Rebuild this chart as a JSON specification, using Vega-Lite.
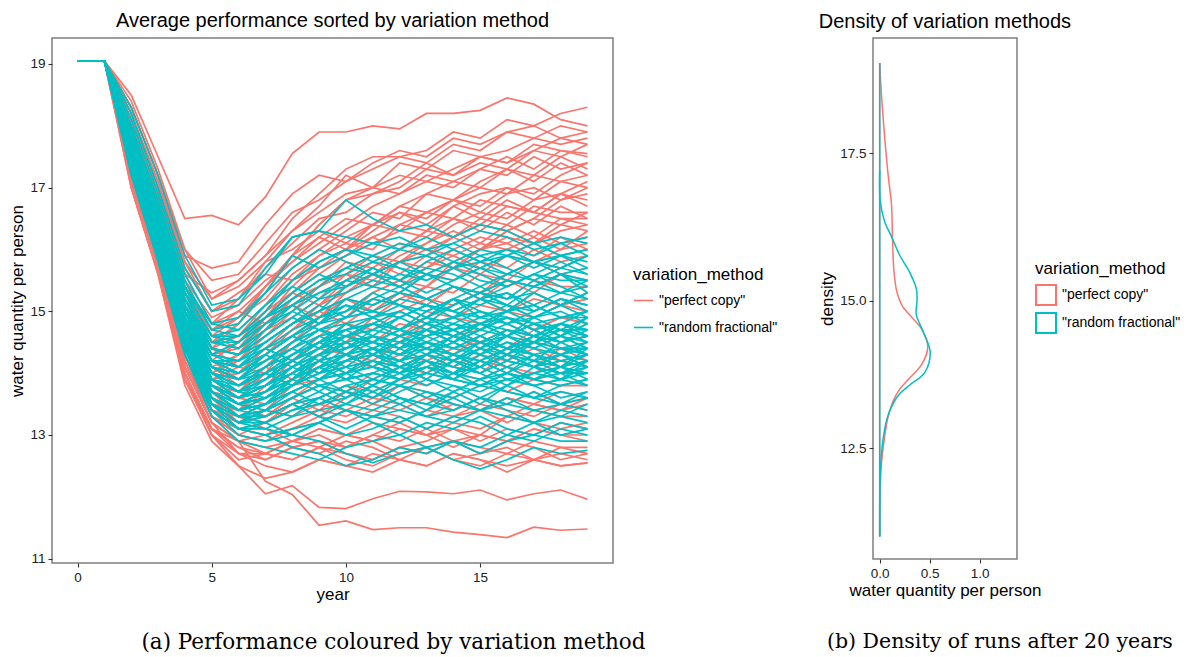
{
  "$schema": "https://vega.github.io/schema/vega-lite/v6.json",
  "padding": {"left": 8, "top": 10, "right": 0, "bottom": 0},
  "background": "white",
  "config": {
    "font": "Liberation Sans",
    "view": {"stroke": "#7f7f7f", "strokeWidth": 1.5},
    "axis": {"domain": false, "grid": false, "tickColor": "#333333", "tickSize": 4, "tickWidth": 1.1, "labelColor": "#222222", "labelFontSize": 13.5, "labelPadding": 3, "titleColor": "#000000", "titleFontSize": 17, "titleFontWeight": "normal", "titlePadding": 3},
    "legend": {"titleFontSize": 17, "titleFontWeight": "normal", "titleColor": "#000000", "labelFontSize": 14, "labelColor": "#000000", "titlePadding": 6, "labelOffset": 5, "layout": {"right": {"anchor": "middle"}}},
    "title": {"fontSize": 20, "fontWeight": "normal", "color": "#000000"}
  },
  "datasets": {
    "runs": [
      {"id": "p01", "m": "\"perfect copy\"", "t": [0,1,2,3,4,5,6,7,8,9,10,11,12,13,14,15,16,17,18,19], "v": [19.05,19.05,18.5,17.5,16.5,16.55,16.4,16.85,17.55,17.9,17.9,18.0,17.95,18.2,18.2,18.25,18.45,18.35,18.1,18.0]},
      {"id": "p02", "m": "\"perfect copy\"", "t": [0,1,2,3,4,5,6,7,8,9,10,11,12,13,14,15,16,17,18,19], "v": [19.05,19.05,18.4,17.3,16.0,15.2,15.5,15.9,16.5,16.9,17.3,17.5,17.5,17.6,17.9,17.8,18.1,18.0,18.2,18.3]},
      {"id": "p03", "m": "\"perfect copy\"", "t": [0,1,2,3,4,5,6,7,8,9,10,11,12,13,14,15,16,17,18,19], "v": [19.05,19.05,18.3,17.2,15.8,15.0,15.2,15.8,16.3,16.7,17.2,17.0,17.4,17.3,17.6,17.5,17.6,17.8,17.7,17.8]},
      {"id": "p04", "m": "\"perfect copy\"", "t": [0,1,2,3,4,5,6,7,8,9,10,11,12,13,14,15,16,17,18,19], "v": [19.05,19.05,18.2,17.0,15.6,14.8,15.0,15.4,15.9,16.4,16.8,16.9,17.1,17.4,17.2,17.5,17.4,17.7,17.6,17.55]},
      {"id": "p05", "m": "\"perfect copy\"", "t": [0,1,2,3,4,5,6,7,8,9,10,11,12,13,14,15,16,17,18,19], "v": [19.05,19.05,18.1,16.9,15.5,14.6,14.9,15.2,15.7,16.0,16.3,16.6,16.5,16.9,17.1,17.0,17.3,17.2,17.5,17.3]},
      {"id": "p06", "m": "\"perfect copy\"", "t": [0,1,2,3,4,5,6,7,8,9,10,11,12,13,14,15,16,17,18,19], "v": [19.05,19.05,18.0,16.8,15.3,14.5,14.6,15.0,15.5,15.7,16.0,16.2,16.4,16.3,16.7,16.9,17.0,16.8,17.1,17.0]},
      {"id": "p07", "m": "\"perfect copy\"", "t": [0,1,2,3,4,5,6,7,8,9,10,11,12,13,14,15,16,17,18,19], "v": [19.05,19.05,18.2,17.1,15.7,15.0,15.3,15.6,15.5,15.9,16.1,16.0,16.4,16.6,16.5,16.8,16.7,16.6,16.9,16.8]},
      {"id": "p08", "m": "\"perfect copy\"", "t": [0,1,2,3,4,5,6,7,8,9,10,11,12,13,14,15,16,17,18,19], "v": [19.05,19.05,17.9,16.6,15.2,14.3,14.2,14.6,15.0,15.4,15.8,15.7,16.0,16.3,16.2,16.5,16.4,16.7,16.6,16.6]},
      {"id": "p09", "m": "\"perfect copy\"", "t": [0,1,2,3,4,5,6,7,8,9,10,11,12,13,14,15,16,17,18,19], "v": [19.05,19.05,18.0,16.7,15.0,14.0,14.3,14.8,15.2,15.4,15.6,15.9,15.8,16.1,16.3,16.1,16.4,16.2,16.5,16.4]},
      {"id": "p10", "m": "\"perfect copy\"", "t": [0,1,2,3,4,5,6,7,8,9,10,11,12,13,14,15,16,17,18,19], "v": [19.05,19.05,17.8,16.5,14.9,13.9,14.0,14.4,14.7,15.1,15.3,15.6,15.8,15.7,16.0,16.2,16.1,16.3,16.1,16.2]},
      {"id": "p11", "m": "\"perfect copy\"", "t": [0,1,2,3,4,5,6,7,8,9,10,11,12,13,14,15,16,17,18,19], "v": [19.05,19.05,18.1,16.8,15.4,14.6,14.4,14.7,14.9,15.2,15.6,15.4,15.8,15.9,15.7,16.0,16.1,15.9,16.2,16.0]},
      {"id": "p12", "m": "\"perfect copy\"", "t": [0,1,2,3,4,5,6,7,8,9,10,11,12,13,14,15,16,17,18,19], "v": [19.05,19.05,17.7,16.3,14.7,13.8,13.7,14.1,14.5,14.8,15.0,15.3,15.5,15.4,15.7,15.6,15.9,15.8,15.7,15.9]},
      {"id": "p13", "m": "\"perfect copy\"", "t": [0,1,2,3,4,5,6,7,8,9,10,11,12,13,14,15,16,17,18,19], "v": [19.05,19.05,17.9,16.6,15.1,14.2,13.9,14.2,14.4,14.7,14.9,15.2,15.1,15.4,15.3,15.6,15.5,15.8,15.6,15.7]},
      {"id": "p14", "m": "\"perfect copy\"", "t": [0,1,2,3,4,5,6,7,8,9,10,11,12,13,14,15,16,17,18,19], "v": [19.05,19.05,18.0,16.7,15.0,14.1,13.8,13.9,14.2,14.5,14.8,14.7,15.0,15.2,15.1,15.3,15.2,15.5,15.4,15.4]},
      {"id": "p15", "m": "\"perfect copy\"", "t": [0,1,2,3,4,5,6,7,8,9,10,11,12,13,14,15,16,17,18,19], "v": [19.05,19.05,17.6,16.2,14.6,13.6,13.4,13.7,14.0,14.3,14.5,14.8,14.7,15.0,14.9,15.1,15.0,15.2,15.1,15.2]},
      {"id": "p16", "m": "\"perfect copy\"", "t": [0,1,2,3,4,5,6,7,8,9,10,11,12,13,14,15,16,17,18,19], "v": [19.05,19.05,17.8,16.4,14.8,13.9,13.6,13.8,14.1,14.3,14.6,14.5,14.8,14.7,14.9,14.8,15.0,14.9,15.1,15.0]},
      {"id": "p17", "m": "\"perfect copy\"", "t": [0,1,2,3,4,5,6,7,8,9,10,11,12,13,14,15,16,17,18,19], "v": [19.05,19.05,18.1,16.9,15.3,14.4,14.1,14.0,14.2,14.4,14.3,14.6,14.5,14.8,14.6,14.7,14.9,14.7,14.9,14.8]},
      {"id": "p18", "m": "\"perfect copy\"", "t": [0,1,2,3,4,5,6,7,8,9,10,11,12,13,14,15,16,17,18,19], "v": [19.05,19.05,17.7,16.3,14.6,13.7,13.5,13.6,13.9,14.1,14.3,14.2,14.5,14.4,14.6,14.5,14.7,14.6,14.5,14.6]},
      {"id": "p19", "m": "\"perfect copy\"", "t": [0,1,2,3,4,5,6,7,8,9,10,11,12,13,14,15,16,17,18,19], "v": [19.05,19.05,17.5,16.1,14.5,13.5,13.3,13.5,13.8,13.9,14.2,14.1,14.3,14.2,14.4,14.5,14.3,14.5,14.4,14.4]},
      {"id": "p20", "m": "\"perfect copy\"", "t": [0,1,2,3,4,5,6,7,8,9,10,11,12,13,14,15,16,17,18,19], "v": [19.05,19.05,17.9,16.5,14.9,13.9,13.6,13.5,13.7,13.9,14.0,14.2,14.1,14.3,14.1,14.3,14.2,14.4,14.2,14.3]},
      {"id": "p21", "m": "\"perfect copy\"", "t": [0,1,2,3,4,5,6,7,8,9,10,11,12,13,14,15,16,17,18,19], "v": [19.05,19.05,17.6,16.2,14.4,13.4,13.2,13.4,13.6,13.8,13.7,14.0,13.9,14.1,14.0,14.2,14.1,14.0,14.2,14.1]},
      {"id": "p22", "m": "\"perfect copy\"", "t": [0,1,2,3,4,5,6,7,8,9,10,11,12,13,14,15,16,17,18,19], "v": [19.05,19.05,17.4,16.0,14.3,13.3,13.1,13.2,13.5,13.6,13.8,13.7,13.9,13.8,14.0,13.9,14.1,13.9,14.0,14.0]},
      {"id": "p23", "m": "\"perfect copy\"", "t": [0,1,2,3,4,5,6,7,8,9,10,11,12,13,14,15,16,17,18,19], "v": [19.05,19.05,17.8,16.4,14.7,13.7,13.3,13.2,13.4,13.5,13.7,13.6,13.8,13.7,13.6,13.8,13.7,13.9,13.8,13.8]},
      {"id": "p24", "m": "\"perfect copy\"", "t": [0,1,2,3,4,5,6,7,8,9,10,11,12,13,14,15,16,17,18,19], "v": [19.05,19.05,17.3,15.9,14.2,13.2,12.9,13.0,13.2,13.4,13.3,13.5,13.4,13.6,13.5,13.4,13.6,13.5,13.7,13.6]},
      {"id": "p25", "m": "\"perfect copy\"", "t": [0,1,2,3,4,5,6,7,8,9,10,11,12,13,14,15,16,17,18,19], "v": [19.05,19.05,17.5,16.0,14.3,13.3,13.0,12.9,13.1,13.2,13.4,13.3,13.2,13.4,13.3,13.5,13.4,13.3,13.5,13.4]},
      {"id": "p26", "m": "\"perfect copy\"", "t": [0,1,2,3,4,5,6,7,8,9,10,11,12,13,14,15,16,17,18,19], "v": [19.05,19.05,17.2,15.8,14.0,13.1,12.8,12.7,12.9,13.1,13.0,13.2,13.1,13.0,13.2,13.1,13.3,13.2,13.1,13.2]},
      {"id": "p27", "m": "\"perfect copy\"", "t": [0,1,2,3,4,5,6,7,8,9,10,11,12,13,14,15,16,17,18,19], "v": [19.05,19.05,17.4,15.9,14.1,13.2,12.7,12.6,12.8,12.9,12.8,13.0,12.9,13.1,12.9,13.0,12.9,13.1,13.0,13.0]},
      {"id": "p28", "m": "\"perfect copy\"", "t": [0,1,2,3,4,5,6,7,8,9,10,11,12,13,14,15,16,17,18,19], "v": [19.05,19.05,17.1,15.7,13.9,13.0,12.6,12.7,12.6,12.8,12.7,12.6,12.8,12.7,12.9,12.8,12.7,12.9,12.8,12.8]},
      {"id": "p29", "m": "\"perfect copy\"", "t": [0,1,2,3,4,5,6,7,8,9,10,11,12,13,14,15,16,17,18,19], "v": [19.05,19.05,17.0,15.6,13.8,12.9,12.5,12.3,12.4,12.6,12.5,12.7,12.6,12.5,12.7,12.6,12.5,12.6,12.5,12.55]},
      {"id": "p30", "m": "\"perfect copy\"", "t": [0,1,2,3,4,5,6,7,8,9,10,11,12,13,14,15,16,17,18,19], "v": [19.05,19.05,17.2,15.9,14.0,13.0,12.5,12.05,12.18,11.83,11.81,11.97,12.09,12.08,12.05,12.11,11.95,12.05,12.11,11.96]},
      {"id": "p31", "m": "\"perfect copy\"", "t": [0,1,2,3,4,5,6,7,8,9,10,11,12,13,14,15,16,17,18,19], "v": [19.05,19.05,17.0,15.6,13.9,13.1,12.9,12.25,12.04,11.54,11.61,11.47,11.5,11.5,11.43,11.39,11.34,11.51,11.46,11.48]},
      {"id": "p32", "m": "\"perfect copy\"", "t": [0,1,2,3,4,5,6,7,8,9,10,11,12,13,14,15,16,17,18,19], "v": [19.05,19.05,17.6,16.2,14.6,13.8,13.5,13.3,13.6,13.9,14.2,14.4,14.6,14.9,15.1,15.3,15.6,15.8,16.0,16.3]},
      {"id": "p33", "m": "\"perfect copy\"", "t": [0,1,2,3,4,5,6,7,8,9,10,11,12,13,14,15,16,17,18,19], "v": [19.05,19.05,17.7,16.3,14.5,13.6,13.2,13.4,13.8,14.2,14.5,14.9,15.2,15.4,15.8,16.0,16.3,16.5,16.8,16.9]},
      {"id": "p34", "m": "\"perfect copy\"", "t": [0,1,2,3,4,5,6,7,8,9,10,11,12,13,14,15,16,17,18,19], "v": [19.05,19.05,17.5,16.1,14.4,13.5,13.1,13.0,12.8,12.9,12.7,12.6,12.8,12.9,13.1,13.0,13.3,13.5,13.4,13.6]},
      {"id": "p35", "m": "\"perfect copy\"", "t": [0,1,2,3,4,5,6,7,8,9,10,11,12,13,14,15,16,17,18,19], "v": [19.05,19.05,18.3,17.2,15.9,15.7,15.8,16.4,16.9,17.2,17.1,17.4,17.6,17.5,17.8,17.7,17.9,18.0,17.8,17.9]},
      {"id": "p36", "m": "\"perfect copy\"", "t": [0,1,2,3,4,5,6,7,8,9,10,11,12,13,14,15,16,17,18,19], "v": [19.05,19.05,17.9,16.7,15.2,14.4,14.8,15.4,15.8,16.2,16.0,16.4,16.7,16.6,16.8,17.0,16.9,17.2,17.1,17.2]},
      {"id": "p37", "m": "\"perfect copy\"", "t": [0,1,2,3,4,5,6,7,8,9,10,11,12,13,14,15,16,17,18,19], "v": [19.05,19.05,17.8,16.5,15.0,14.2,14.5,15.0,15.3,15.1,15.5,15.8,15.6,15.9,16.2,16.0,16.3,16.5,16.4,16.6]},
      {"id": "p38", "m": "\"perfect copy\"", "t": [0,1,2,3,4,5,6,7,8,9,10,11,12,13,14,15,16,17,18,19], "v": [19.05,19.05,17.6,16.2,14.7,13.9,14.1,14.3,14.6,14.9,15.2,15.0,15.3,15.6,15.5,15.8,15.7,16.0,15.8,15.9]},
      {"id": "p39", "m": "\"perfect copy\"", "t": [0,1,2,3,4,5,6,7,8,9,10,11,12,13,14,15,16,17,18,19], "v": [19.05,19.05,17.3,15.9,14.2,13.3,13.0,13.2,13.5,13.3,13.6,13.9,14.1,14.0,14.3,14.6,14.4,14.7,14.9,14.8]},
      {"id": "p40", "m": "\"perfect copy\"", "t": [0,1,2,3,4,5,6,7,8,9,10,11,12,13,14,15,16,17,18,19], "v": [19.05,19.05,17.5,16.0,14.3,13.4,13.3,13.1,12.9,12.8,13.0,12.9,12.7,12.8,12.6,12.7,12.9,12.8,12.6,12.7]},
      {"id": "p41", "m": "\"perfect copy\"", "t": [0,1,2,3,4,5,6,7,8,9,10,11,12,13,14,15,16,17,18,19], "v": [19.05,19.05,18.0,16.8,15.4,14.7,15.0,14.8,15.1,14.9,15.2,15.0,15.3,15.1,15.4,15.2,15.0,15.3,15.1,15.2]},
      {"id": "p42", "m": "\"perfect copy\"", "t": [0,1,2,3,4,5,6,7,8,9,10,11,12,13,14,15,16,17,18,19], "v": [19.05,19.05,17.7,16.4,14.9,14.0,13.8,14.1,13.9,14.2,14.0,14.3,14.1,13.9,14.2,14.0,14.3,14.1,14.4,14.2]},
      {"id": "p43", "m": "\"perfect copy\"", "t": [0,1,2,3,4,5,6,7,8,9,10,11,12,13,14,15,16,17,18,19], "v": [19.05,19.05,18.2,17.0,15.6,15.3,15.5,15.9,16.3,16.6,16.9,17.0,17.2,17.1,17.3,17.5,17.4,17.6,17.8,17.7]},
      {"id": "p44", "m": "\"perfect copy\"", "t": [0,1,2,3,4,5,6,7,8,9,10,11,12,13,14,15,16,17,18,19], "v": [19.05,19.05,18.1,16.9,15.4,14.8,15.2,15.7,16.1,16.5,16.6,16.9,17.0,17.3,17.2,17.4,17.3,17.6,17.5,17.7]},
      {"id": "p45", "m": "\"perfect copy\"", "t": [0,1,2,3,4,5,6,7,8,9,10,11,12,13,14,15,16,17,18,19], "v": [19.05,19.05,18.0,16.7,15.2,14.5,14.8,15.3,15.9,16.2,16.5,16.4,16.7,16.9,16.8,17.1,17.3,17.1,17.4,17.2]},
      {"id": "p46", "m": "\"perfect copy\"", "t": [0,1,2,3,4,5,6,7,8,9,10,11,12,13,14,15,16,17,18,19], "v": [19.05,19.05,17.9,16.6,15.1,14.4,14.6,15.1,15.6,15.9,16.2,16.4,16.3,16.6,16.8,16.6,16.9,17.0,16.8,17.0]},
      {"id": "p47", "m": "\"perfect copy\"", "t": [0,1,2,3,4,5,6,7,8,9,10,11,12,13,14,15,16,17,18,19], "v": [19.05,19.05,17.8,16.5,14.9,14.1,14.3,14.9,15.3,15.6,15.9,16.1,16.3,16.2,16.5,16.4,16.7,16.6,16.9,16.7]},
      {"id": "p48", "m": "\"perfect copy\"", "t": [0,1,2,3,4,5,6,7,8,9,10,11,12,13,14,15,16,17,18,19], "v": [19.05,19.05,18.2,17.1,15.8,15.2,15.4,15.8,16.0,16.3,16.1,16.4,16.6,16.4,16.7,16.5,16.8,16.6,16.5,16.5]},
      {"id": "p49", "m": "\"perfect copy\"", "t": [0,1,2,3,4,5,6,7,8,9,10,11,12,13,14,15,16,17,18,19], "v": [19.05,19.05,17.7,16.4,14.8,14.0,14.2,14.7,15.2,15.5,15.7,15.9,16.1,16.0,16.2,16.4,16.3,16.1,16.3,16.4]},
      {"id": "p50", "m": "\"perfect copy\"", "t": [0,1,2,3,4,5,6,7,8,9,10,11,12,13,14,15,16,17,18,19], "v": [19.05,19.05,17.9,16.6,15.0,14.3,14.4,14.9,15.1,15.4,15.6,15.5,15.8,16.0,15.9,16.1,16.0,16.2,16.0,16.1]},
      {"id": "p51", "m": "\"perfect copy\"", "t": [0,1,2,3,4,5,6,7,8,9,10,11,12,13,14,15,16,17,18,19], "v": [19.05,19.05,18.1,16.9,15.5,14.9,15.1,15.5,15.8,16.1,16.4,16.7,16.9,17.1,17.0,17.3,17.5,17.3,17.6,17.5]},
      {"id": "p52", "m": "\"perfect copy\"", "t": [0,1,2,3,4,5,6,7,8,9,10,11,12,13,14,15,16,17,18,19], "v": [19.05,19.05,18.3,17.2,16.0,15.5,15.6,16.1,16.6,16.8,17.1,17.3,17.5,17.4,17.7,17.6,17.9,17.8,18.0,17.9]},
      {"id": "p53", "m": "\"perfect copy\"", "t": [0,1,2,3,4,5,6,7,8,9,10,11,12,13,14,15,16,17,18,19], "v": [19.05,19.05,17.6,16.2,14.6,13.7,13.6,14.0,14.5,14.9,15.3,15.6,15.9,16.1,16.4,16.6,16.5,16.8,16.9,17.1]},
      {"id": "p54", "m": "\"perfect copy\"", "t": [0,1,2,3,4,5,6,7,8,9,10,11,12,13,14,15,16,17,18,19], "v": [19.05,19.05,17.5,16.1,14.4,13.5,13.4,13.8,14.2,14.6,14.9,15.3,15.5,15.8,15.7,16.0,16.2,16.1,16.4,16.3]},
      {"id": "p55", "m": "\"perfect copy\"", "t": [0,1,2,3,4,5,6,7,8,9,10,11,12,13,14,15,16,17,18,19], "v": [19.05,19.05,17.3,15.9,14.1,13.2,12.9,12.8,12.9,13.1,13.0,12.9,13.1,13.0,12.8,13.0,12.9,13.1,13.0,12.9]},
      {"id": "p56", "m": "\"perfect copy\"", "t": [0,1,2,3,4,5,6,7,8,9,10,11,12,13,14,15,16,17,18,19], "v": [19.05,19.05,17.2,15.8,14.0,13.1,12.8,12.6,12.8,12.7,12.9,12.8,12.6,12.8,12.9,12.7,12.8,12.6,12.8,12.7]},
      {"id": "p57", "m": "\"perfect copy\"", "t": [0,1,2,3,4,5,6,7,8,9,10,11,12,13,14,15,16,17,18,19], "v": [19.05,19.05,17.4,16.0,14.2,13.3,13.0,12.9,13.1,13.3,13.2,13.4,13.3,13.1,13.3,13.4,13.2,13.4,13.3,13.3]},
      {"id": "p58", "m": "\"perfect copy\"", "t": [0,1,2,3,4,5,6,7,8,9,10,11,12,13,14,15,16,17,18,19], "v": [19.05,19.05,17.1,15.7,13.9,13.0,12.7,12.5,12.4,12.6,12.5,12.4,12.6,12.5,12.7,12.6,12.4,12.6,12.7,12.6]},
      {"id": "p59", "m": "\"perfect copy\"", "t": [0,1,2,3,4,5,6,7,8,9,10,11,12,13,14,15,16,17,18,19], "v": [19.05,19.05,17.3,15.8,14.0,13.1,12.7,12.7,12.9,13.0,12.8,13.0,13.2,13.0,13.1,12.9,13.1,13.0,13.2,13.1]},
      {"id": "p60", "m": "\"perfect copy\"", "t": [0,1,2,3,4,5,6,7,8,9,10,11,12,13,14,15,16,17,18,19], "v": [19.05,19.05,17.6,16.3,14.7,13.9,14.0,14.4,14.8,15.1,15.4,15.6,15.4,15.7,15.9,15.7,15.9,16.1,15.9,16.0]},
      {"id": "p61", "m": "\"perfect copy\"", "t": [0,1,2,3,4,5,6,7,8,9,10,11,12,13,14,15,16,17,18,19], "v": [19.05,19.05,17.8,16.5,15.0,14.3,14.5,14.9,15.4,15.8,16.0,16.3,16.6,16.5,16.8,16.7,17.0,16.9,17.2,17.4]},
      {"id": "p62", "m": "\"perfect copy\"", "t": [0,1,2,3,4,5,6,7,8,9,10,11,12,13,14,15,16,17,18,19], "v": [19.05,19.05,17.5,16.1,14.3,13.4,13.2,13.3,13.6,13.4,13.7,13.5,13.8,13.6,13.4,13.6,13.5,13.7,13.5,13.6]},
      {"id": "p63", "m": "\"perfect copy\"", "t": [0,1,2,3,4,5,6,7,8,9,10,11,12,13,14,15,16,17,18,19], "v": [19.05,19.05,17.7,16.4,14.8,14.0,13.9,14.3,14.7,15.0,14.8,15.1,15.3,15.1,15.4,15.2,15.5,15.3,15.6,15.5]},
      {"id": "p64", "m": "\"perfect copy\"", "t": [0,1,2,3,4,5,6,7,8,9,10,11,12,13,14,15,16,17,18,19], "v": [19.05,19.05,17.4,15.9,14.1,13.2,12.9,12.7,12.6,12.8,12.6,12.5,12.7,12.8,12.6,12.5,12.7,12.6,12.5,12.55]},
      {"id": "p65", "m": "\"perfect copy\"", "t": [0,1,2,3,4,5,6,7,8,9,10,11,12,13,14,15,16,17,18,19], "v": [19.05,19.05,18.0,16.8,15.3,14.7,14.9,15.4,15.9,16.4,16.8,17.0,16.9,17.2,17.1,17.3,17.2,17.5,17.3,17.4]},
      {"id": "p66", "m": "\"perfect copy\"", "t": [0,1,2,3,4,5,6,7,8,9,10,11,12,13,14,15,16,17,18,19], "v": [19.05,19.05,17.9,16.7,15.2,14.5,14.6,15.0,15.3,15.7,15.9,16.2,16.0,16.3,16.5,16.3,16.6,16.4,16.7,16.5]},
      {"id": "p67", "m": "\"perfect copy\"", "t": [0,1,2,3,4,5,6,7,8,9,10,11,12,13,14,15,16,17,18,19], "v": [19.05,19.05,17.6,16.2,14.5,13.6,13.3,13.4,13.3,13.5,13.4,13.6,13.5,13.3,13.5,13.4,13.6,13.5,13.4,13.5]},
      {"id": "r01", "m": "\"random fractional\"", "t": [0,1,2,3,4,5,6,7,8,9,10,11,12,13,14,15,16,17,18,19], "v": [19.05,19.05,18.3,17.2,15.9,15.1,15.2,15.6,16.2,16.3,16.8,16.5,16.3,16.4,16.2,16.4,16.3,16.1,16.2,16.1]},
      {"id": "r02", "m": "\"random fractional\"", "t": [0,1,2,3,4,5,6,7,8,9,10,11,12,13,14,15,16,17,18,19], "v": [19.05,19.05,18.2,17.0,15.7,15.0,15.1,15.7,16.2,16.3,16.2,16.1,16.2,16.0,16.1,16.3,16.2,16.0,16.1,16.2]},
      {"id": "r03", "m": "\"random fractional\"", "t": [0,1,2,3,4,5,6,7,8,9,10,11,12,13,14,15,16,17,18,19], "v": [19.05,19.05,18.1,16.9,15.6,14.8,14.7,15.1,15.5,15.8,16.0,15.9,16.1,16.0,15.8,16.0,15.9,16.1,15.9,16.0]},
      {"id": "r04", "m": "\"random fractional\"", "t": [0,1,2,3,4,5,6,7,8,9,10,11,12,13,14,15,16,17,18,19], "v": [19.05,19.05,18.0,16.8,15.5,14.7,14.6,14.9,15.2,15.5,15.7,15.6,15.8,15.9,15.7,15.8,15.6,15.8,15.7,15.9]},
      {"id": "r05", "m": "\"random fractional\"", "t": [0,1,2,3,4,5,6,7,8,9,10,11,12,13,14,15,16,17,18,19], "v": [19.05,19.05,18.0,16.7,15.4,14.5,14.4,14.7,15.0,15.3,15.4,15.6,15.5,15.7,15.6,15.4,15.6,15.5,15.7,15.6]},
      {"id": "r06", "m": "\"random fractional\"", "t": [0,1,2,3,4,5,6,7,8,9,10,11,12,13,14,15,16,17,18,19], "v": [19.05,19.05,17.9,16.6,15.3,14.4,14.3,14.5,14.8,15.0,15.2,15.1,15.3,15.2,15.4,15.3,15.5,15.4,15.3,15.4]},
      {"id": "r07", "m": "\"random fractional\"", "t": [0,1,2,3,4,5,6,7,8,9,10,11,12,13,14,15,16,17,18,19], "v": [19.05,19.05,17.9,16.6,15.2,14.3,14.1,14.3,14.6,14.9,15.1,15.0,15.2,15.1,15.0,15.2,15.1,15.0,15.2,15.1]},
      {"id": "r08", "m": "\"random fractional\"", "t": [0,1,2,3,4,5,6,7,8,9,10,11,12,13,14,15,16,17,18,19], "v": [19.05,19.05,17.8,16.5,15.1,14.2,14.0,14.2,14.4,14.7,14.9,15.0,14.9,15.1,15.0,14.9,15.0,15.1,14.9,15.0]},
      {"id": "r09", "m": "\"random fractional\"", "t": [0,1,2,3,4,5,6,7,8,9,10,11,12,13,14,15,16,17,18,19], "v": [19.05,19.05,17.8,16.4,15.0,14.1,13.9,14.1,14.3,14.5,14.7,14.8,14.7,14.9,14.8,15.0,14.9,14.8,14.9,14.9]},
      {"id": "r10", "m": "\"random fractional\"", "t": [0,1,2,3,4,5,6,7,8,9,10,11,12,13,14,15,16,17,18,19], "v": [19.05,19.05,17.7,16.4,14.9,14.0,13.8,14.0,14.2,14.4,14.6,14.5,14.7,14.6,14.8,14.7,14.6,14.8,14.7,14.7]},
      {"id": "r11", "m": "\"random fractional\"", "t": [0,1,2,3,4,5,6,7,8,9,10,11,12,13,14,15,16,17,18,19], "v": [19.05,19.05,17.7,16.3,14.9,13.9,13.7,13.9,14.1,14.3,14.4,14.6,14.5,14.4,14.6,14.5,14.7,14.6,14.5,14.6]},
      {"id": "r12", "m": "\"random fractional\"", "t": [0,1,2,3,4,5,6,7,8,9,10,11,12,13,14,15,16,17,18,19], "v": [19.05,19.05,17.6,16.3,14.8,13.9,13.6,13.8,14.0,14.2,14.3,14.4,14.3,14.5,14.4,14.3,14.5,14.4,14.3,14.4]},
      {"id": "r13", "m": "\"random fractional\"", "t": [0,1,2,3,4,5,6,7,8,9,10,11,12,13,14,15,16,17,18,19], "v": [19.05,19.05,17.6,16.2,14.8,13.8,13.5,13.7,13.9,14.1,14.2,14.3,14.2,14.4,14.3,14.2,14.4,14.3,14.2,14.3]},
      {"id": "r14", "m": "\"random fractional\"", "t": [0,1,2,3,4,5,6,7,8,9,10,11,12,13,14,15,16,17,18,19], "v": [19.05,19.05,17.5,16.2,14.7,13.7,13.5,13.6,13.8,14.0,14.1,14.2,14.1,14.3,14.2,14.1,14.3,14.2,14.1,14.2]},
      {"id": "r15", "m": "\"random fractional\"", "t": [0,1,2,3,4,5,6,7,8,9,10,11,12,13,14,15,16,17,18,19], "v": [19.05,19.05,17.5,16.1,14.7,13.7,13.4,13.5,13.7,13.9,14.0,14.1,14.0,14.2,14.1,14.0,14.2,14.1,14.0,14.1]},
      {"id": "r16", "m": "\"random fractional\"", "t": [0,1,2,3,4,5,6,7,8,9,10,11,12,13,14,15,16,17,18,19], "v": [19.05,19.05,17.4,16.1,14.6,13.6,13.3,13.4,13.6,13.8,13.9,14.0,13.9,14.1,14.0,13.9,14.0,13.9,14.0,14.0]},
      {"id": "r17", "m": "\"random fractional\"", "t": [0,1,2,3,4,5,6,7,8,9,10,11,12,13,14,15,16,17,18,19], "v": [19.05,19.05,17.4,16.0,14.6,13.5,13.3,13.3,13.5,13.6,13.8,13.9,13.8,14.0,13.9,13.8,13.9,13.8,13.9,13.8]},
      {"id": "r18", "m": "\"random fractional\"", "t": [0,1,2,3,4,5,6,7,8,9,10,11,12,13,14,15,16,17,18,19], "v": [19.05,19.05,17.5,16.0,14.5,13.5,13.2,13.2,13.4,13.5,13.7,13.6,13.8,13.7,13.6,13.8,13.7,13.6,13.7,13.6]},
      {"id": "r19", "m": "\"random fractional\"", "t": [0,1,2,3,4,5,6,7,8,9,10,11,12,13,14,15,16,17,18,19], "v": [19.05,19.05,17.4,15.9,14.5,13.4,13.1,13.1,13.3,13.4,13.5,13.4,13.6,13.5,13.4,13.6,13.5,13.4,13.5,13.4]},
      {"id": "r20", "m": "\"random fractional\"", "t": [0,1,2,3,4,5,6,7,8,9,10,11,12,13,14,15,16,17,18,19], "v": [19.05,19.05,17.6,16.1,14.6,13.5,13.1,13.0,13.1,13.2,13.4,13.3,13.4,13.3,13.2,13.4,13.3,13.2,13.3,13.2]},
      {"id": "r21", "m": "\"random fractional\"", "t": [0,1,2,3,4,5,6,7,8,9,10,11,12,13,14,15,16,17,18,19], "v": [19.05,19.05,17.5,16.0,14.4,13.4,13.0,12.9,13.0,12.9,12.7,12.55,12.7,12.8,12.6,12.45,12.6,12.8,12.7,12.75]},
      {"id": "r22", "m": "\"random fractional\"", "t": [0,1,2,3,4,5,6,7,8,9,10,11,12,13,14,15,16,17,18,19], "v": [19.05,19.05,17.4,15.9,14.3,13.3,12.9,12.8,12.7,12.6,12.8,12.9,13.0,12.8,12.9,12.7,12.9,13.0,12.9,12.9]},
      {"id": "r23", "m": "\"random fractional\"", "t": [0,1,2,3,4,5,6,7,8,9,10,11,12,13,14,15,16,17,18,19], "v": [19.05,19.05,17.8,16.5,15.1,14.3,14.5,14.9,15.1,14.8,15.0,15.3,15.1,14.9,15.2,15.4,15.2,15.5,15.3,15.5]},
      {"id": "r24", "m": "\"random fractional\"", "t": [0,1,2,3,4,5,6,7,8,9,10,11,12,13,14,15,16,17,18,19], "v": [19.05,19.05,17.7,16.4,15.0,14.2,14.2,14.4,14.2,14.5,14.3,14.6,14.4,14.7,14.5,14.8,14.6,14.9,14.7,14.9]},
      {"id": "r25", "m": "\"random fractional\"", "t": [0,1,2,3,4,5,6,7,8,9,10,11,12,13,14,15,16,17,18,19], "v": [19.05,19.05,17.6,16.2,14.8,13.9,13.8,14.0,13.8,14.1,13.9,14.2,14.0,14.3,14.1,14.4,14.2,14.5,14.3,14.5]},
      {"id": "r26", "m": "\"random fractional\"", "t": [0,1,2,3,4,5,6,7,8,9,10,11,12,13,14,15,16,17,18,19], "v": [19.05,19.05,17.5,16.1,14.7,13.8,13.6,13.8,14.1,13.9,14.2,14.4,14.1,14.3,14.5,14.3,14.6,14.4,14.6,14.4]},
      {"id": "r27", "m": "\"random fractional\"", "t": [0,1,2,3,4,5,6,7,8,9,10,11,12,13,14,15,16,17,18,19], "v": [19.05,19.05,17.6,16.3,14.9,14.1,13.9,14.3,14.6,14.4,14.8,14.6,14.9,15.1,14.9,15.2,15.0,15.3,15.1,15.3]},
      {"id": "r28", "m": "\"random fractional\"", "t": [0,1,2,3,4,5,6,7,8,9,10,11,12,13,14,15,16,17,18,19], "v": [19.05,19.05,17.8,16.6,15.3,14.6,14.5,14.9,15.3,15.6,15.4,15.7,15.5,15.8,16.0,15.8,15.9,15.7,15.9,15.8]},
      {"id": "r29", "m": "\"random fractional\"", "t": [0,1,2,3,4,5,6,7,8,9,10,11,12,13,14,15,16,17,18,19], "v": [19.05,19.05,17.9,16.7,15.4,14.7,14.8,15.3,15.9,15.7,15.9,16.1,16.0,15.9,16.1,15.9,16.0,15.8,15.9,15.7]},
      {"id": "r30", "m": "\"random fractional\"", "t": [0,1,2,3,4,5,6,7,8,9,10,11,12,13,14,15,16,17,18,19], "v": [19.05,19.05,17.5,16.1,14.6,13.6,13.3,13.5,13.9,14.2,14.0,14.3,14.5,14.3,14.6,14.4,14.7,14.5,14.8,14.6]},
      {"id": "r31", "m": "\"random fractional\"", "t": [0,1,2,3,4,5,6,7,8,9,10,11,12,13,14,15,16,17,18,19], "v": [19.05,19.05,17.4,16.0,14.5,13.5,13.2,13.4,13.3,13.6,13.8,13.6,13.9,14.1,13.9,14.2,14.0,14.3,14.1,14.3]},
      {"id": "r32", "m": "\"random fractional\"", "t": [0,1,2,3,4,5,6,7,8,9,10,11,12,13,14,15,16,17,18,19], "v": [19.05,19.05,17.6,16.2,14.7,13.7,13.4,13.3,13.5,13.3,13.1,13.3,13.2,13.4,13.6,13.4,13.5,13.7,13.5,13.6]},
      {"id": "r33", "m": "\"random fractional\"", "t": [0,1,2,3,4,5,6,7,8,9,10,11,12,13,14,15,16,17,18,19], "v": [19.05,19.05,17.3,15.9,14.4,13.4,13.1,13.0,12.8,12.7,12.5,12.6,12.8,12.7,12.9,12.8,13.0,12.9,13.1,13.0]},
      {"id": "r34", "m": "\"random fractional\"", "t": [0,1,2,3,4,5,6,7,8,9,10,11,12,13,14,15,16,17,18,19], "v": [19.05,19.05,17.7,16.4,15.0,14.0,13.7,13.6,13.9,14.3,14.6,14.8,15.0,14.8,15.1,15.3,15.1,15.4,15.6,15.5]},
      {"id": "r35", "m": "\"random fractional\"", "t": [0,1,2,3,4,5,6,7,8,9,10,11,12,13,14,15,16,17,18,19], "v": [19.05,19.05,17.8,16.5,15.1,14.2,14.0,14.2,14.5,14.8,15.2,15.4,15.3,15.6,15.5,15.7,15.6,15.8,15.9,16.0]},
      {"id": "r36", "m": "\"random fractional\"", "t": [0,1,2,3,4,5,6,7,8,9,10,11,12,13,14,15,16,17,18,19], "v": [19.05,19.05,17.6,16.3,14.8,13.8,13.5,13.4,13.6,13.8,13.7,13.9,13.8,13.6,13.8,13.7,13.9,13.8,13.6,13.7]},
      {"id": "r37", "m": "\"random fractional\"", "t": [0,1,2,3,4,5,6,7,8,9,10,11,12,13,14,15,16,17,18,19], "v": [19.05,19.05,17.5,16.2,14.7,13.7,13.4,13.5,13.7,13.5,13.6,13.8,13.6,13.5,13.7,13.9,13.7,13.6,13.8,13.9]},
      {"id": "r38", "m": "\"random fractional\"", "t": [0,1,2,3,4,5,6,7,8,9,10,11,12,13,14,15,16,17,18,19], "v": [19.05,19.05,17.7,16.3,14.8,13.9,13.7,13.9,14.2,14.0,14.3,14.1,14.0,14.2,13.9,14.1,14.3,14.1,14.0,14.2]},
      {"id": "r39", "m": "\"random fractional\"", "t": [0,1,2,3,4,5,6,7,8,9,10,11,12,13,14,15,16,17,18,19], "v": [19.05,19.05,17.6,16.2,14.8,13.8,13.6,13.7,13.9,14.1,13.9,14.0,14.2,14.0,14.2,14.4,14.2,14.1,14.3,14.1]},
      {"id": "r40", "m": "\"random fractional\"", "t": [0,1,2,3,4,5,6,7,8,9,10,11,12,13,14,15,16,17,18,19], "v": [19.05,19.05,17.8,16.4,15.0,14.1,14.0,14.3,14.1,14.4,14.6,14.4,14.3,14.5,14.7,14.5,14.4,14.6,14.4,14.5]},
      {"id": "r41", "m": "\"random fractional\"", "t": [0,1,2,3,4,5,6,7,8,9,10,11,12,13,14,15,16,17,18,19], "v": [19.05,19.05,17.9,16.6,15.2,14.4,14.3,14.6,14.9,14.7,14.6,14.8,15.0,14.8,14.7,14.9,14.8,14.6,14.8,14.7]},
      {"id": "r42", "m": "\"random fractional\"", "t": [0,1,2,3,4,5,6,7,8,9,10,11,12,13,14,15,16,17,18,19], "v": [19.05,19.05,17.5,16.1,14.6,13.6,13.3,13.2,13.0,13.2,13.4,13.2,13.0,13.2,13.1,13.3,13.1,13.0,13.2,13.1]},
      {"id": "r43", "m": "\"random fractional\"", "t": [0,1,2,3,4,5,6,7,8,9,10,11,12,13,14,15,16,17,18,19], "v": [19.05,19.05,17.4,16.0,14.5,13.5,13.2,13.4,13.7,13.9,13.7,13.5,13.7,13.9,13.8,13.6,13.8,14.0,13.9,14.0]},
      {"id": "r44", "m": "\"random fractional\"", "t": [0,1,2,3,4,5,6,7,8,9,10,11,12,13,14,15,16,17,18,19], "v": [19.05,19.05,17.9,16.6,15.1,14.2,14.1,14.5,14.8,15.0,15.4,15.6,15.4,15.2,15.4,15.2,15.3,15.1,15.3,15.2]},
      {"id": "r45", "m": "\"random fractional\"", "t": [0,1,2,3,4,5,6,7,8,9,10,11,12,13,14,15,16,17,18,19], "v": [19.05,19.05,17.6,16.3,14.8,13.8,13.6,13.8,14.0,14.3,14.5,14.3,14.1,14.3,14.6,14.8,14.6,14.4,14.6,14.8]},
      {"id": "r46", "m": "\"random fractional\"", "t": [0,1,2,3,4,5,6,7,8,9,10,11,12,13,14,15,16,17,18,19], "v": [19.05,19.05,17.9,16.7,15.3,14.6,14.6,14.9,15.2,15.5,15.6,15.8,15.7,15.6,15.8,15.7,15.9,15.8,15.6,15.7]},
      {"id": "r47", "m": "\"random fractional\"", "t": [0,1,2,3,4,5,6,7,8,9,10,11,12,13,14,15,16,17,18,19], "v": [19.05,19.05,17.8,16.6,15.2,14.5,14.5,14.8,15.1,15.3,15.5,15.4,15.6,15.5,15.7,15.5,15.4,15.6,15.5,15.5]},
      {"id": "r48", "m": "\"random fractional\"", "t": [0,1,2,3,4,5,6,7,8,9,10,11,12,13,14,15,16,17,18,19], "v": [19.05,19.05,17.8,16.5,15.1,14.4,14.3,14.6,14.9,15.2,15.3,15.5,15.4,15.6,15.4,15.3,15.5,15.4,15.6,15.3]},
      {"id": "r49", "m": "\"random fractional\"", "t": [0,1,2,3,4,5,6,7,8,9,10,11,12,13,14,15,16,17,18,19], "v": [19.05,19.05,17.7,16.5,15.0,14.3,14.2,14.5,14.8,15.0,15.2,15.1,15.3,15.2,15.4,15.3,15.2,15.3,15.1,15.3]},
      {"id": "r50", "m": "\"random fractional\"", "t": [0,1,2,3,4,5,6,7,8,9,10,11,12,13,14,15,16,17,18,19], "v": [19.05,19.05,17.7,16.4,15.0,14.2,14.1,14.4,14.7,14.9,15.0,15.2,15.1,15.0,15.2,15.1,15.3,15.0,15.2,15.1]},
      {"id": "r51", "m": "\"random fractional\"", "t": [0,1,2,3,4,5,6,7,8,9,10,11,12,13,14,15,16,17,18,19], "v": [19.05,19.05,17.6,16.4,14.9,14.1,14.0,14.3,14.6,14.8,14.9,15.0,14.9,15.1,15.0,14.8,15.0,15.1,14.9,15.0]},
      {"id": "r52", "m": "\"random fractional\"", "t": [0,1,2,3,4,5,6,7,8,9,10,11,12,13,14,15,16,17,18,19], "v": [19.05,19.05,17.6,16.3,14.9,14.0,13.9,14.2,14.5,14.7,14.8,14.9,15.0,14.8,14.9,15.0,14.8,14.9,15.0,14.8]},
      {"id": "r53", "m": "\"random fractional\"", "t": [0,1,2,3,4,5,6,7,8,9,10,11,12,13,14,15,16,17,18,19], "v": [19.05,19.05,17.6,16.3,14.8,14.0,13.8,14.1,14.4,14.6,14.7,14.8,14.7,14.9,14.7,14.8,14.9,14.7,14.8,14.7]},
      {"id": "r54", "m": "\"random fractional\"", "t": [0,1,2,3,4,5,6,7,8,9,10,11,12,13,14,15,16,17,18,19], "v": [19.05,19.05,17.5,16.2,14.8,13.9,13.7,14.0,14.3,14.5,14.6,14.7,14.6,14.7,14.6,14.8,14.7,14.6,14.7,14.6]},
      {"id": "r55", "m": "\"random fractional\"", "t": [0,1,2,3,4,5,6,7,8,9,10,11,12,13,14,15,16,17,18,19], "v": [19.05,19.05,17.5,16.2,14.7,13.9,13.7,13.9,14.2,14.4,14.5,14.6,14.5,14.6,14.7,14.5,14.6,14.5,14.6,14.5]},
      {"id": "r56", "m": "\"random fractional\"", "t": [0,1,2,3,4,5,6,7,8,9,10,11,12,13,14,15,16,17,18,19], "v": [19.05,19.05,17.5,16.1,14.7,13.8,13.6,13.8,14.1,14.3,14.4,14.5,14.4,14.5,14.4,14.6,14.4,14.5,14.4,14.4]},
      {"id": "r57", "m": "\"random fractional\"", "t": [0,1,2,3,4,5,6,7,8,9,10,11,12,13,14,15,16,17,18,19], "v": [19.05,19.05,17.4,16.1,14.6,13.8,13.5,13.7,14.0,14.2,14.3,14.4,14.3,14.4,14.3,14.2,14.4,14.3,14.4,14.3]},
      {"id": "r58", "m": "\"random fractional\"", "t": [0,1,2,3,4,5,6,7,8,9,10,11,12,13,14,15,16,17,18,19], "v": [19.05,19.05,17.4,16.0,14.6,13.7,13.5,13.6,13.9,14.1,14.2,14.3,14.2,14.3,14.2,14.4,14.3,14.2,14.3,14.2]},
      {"id": "r59", "m": "\"random fractional\"", "t": [0,1,2,3,4,5,6,7,8,9,10,11,12,13,14,15,16,17,18,19], "v": [19.05,19.05,17.4,16.0,14.5,13.7,13.4,13.6,13.8,14.0,14.1,14.2,14.1,14.2,14.1,14.0,14.2,14.1,14.2,14.1]},
      {"id": "r60", "m": "\"random fractional\"", "t": [0,1,2,3,4,5,6,7,8,9,10,11,12,13,14,15,16,17,18,19], "v": [19.05,19.05,17.3,15.9,14.5,13.6,13.4,13.5,13.7,13.9,14.0,14.1,14.0,14.1,14.0,14.1,13.9,14.0,14.1,14.0]},
      {"id": "r61", "m": "\"random fractional\"", "t": [0,1,2,3,4,5,6,7,8,9,10,11,12,13,14,15,16,17,18,19], "v": [19.05,19.05,17.3,15.9,14.4,13.6,13.3,13.4,13.6,13.8,13.9,14.0,13.9,14.0,13.9,13.8,14.0,13.9,13.8,13.9]},
      {"id": "r62", "m": "\"random fractional\"", "t": [0,1,2,3,4,5,6,7,8,9,10,11,12,13,14,15,16,17,18,19], "v": [19.05,19.05,17.6,16.2,14.8,13.9,13.7,13.9,14.3,14.6,14.4,14.7,14.9,14.7,14.5,14.7,14.9,14.7,14.5,14.6]},
      {"id": "r63", "m": "\"random fractional\"", "t": [0,1,2,3,4,5,6,7,8,9,10,11,12,13,14,15,16,17,18,19], "v": [19.05,19.05,17.7,16.4,15.0,14.2,14.1,14.4,14.2,14.5,14.7,14.5,14.3,14.6,14.8,14.6,14.4,14.6,14.8,14.6]},
      {"id": "r64", "m": "\"random fractional\"", "t": [0,1,2,3,4,5,6,7,8,9,10,11,12,13,14,15,16,17,18,19], "v": [19.05,19.05,17.5,16.1,14.7,13.8,13.6,13.9,14.2,14.0,14.3,14.1,14.4,14.2,14.0,14.3,14.5,14.3,14.1,14.4]},
      {"id": "r65", "m": "\"random fractional\"", "t": [0,1,2,3,4,5,6,7,8,9,10,11,12,13,14,15,16,17,18,19], "v": [19.05,19.05,17.4,16.0,14.5,13.6,13.4,13.6,13.9,13.7,14.0,13.8,14.1,13.9,14.2,14.0,13.8,14.1,14.3,14.1]},
      {"id": "r66", "m": "\"random fractional\"", "t": [0,1,2,3,4,5,6,7,8,9,10,11,12,13,14,15,16,17,18,19], "v": [19.05,19.05,17.8,16.6,15.2,14.5,14.4,14.8,15.0,14.8,15.1,14.9,14.7,15.0,15.2,14.9,15.1,14.9,15.1,14.9]},
      {"id": "r67", "m": "\"random fractional\"", "t": [0,1,2,3,4,5,6,7,8,9,10,11,12,13,14,15,16,17,18,19], "v": [19.05,19.05,17.9,16.7,15.3,14.6,14.7,15.1,15.4,15.2,15.5,15.7,15.5,15.3,15.5,15.7,15.5,15.4,15.6,15.4]},
      {"id": "r68", "m": "\"random fractional\"", "t": [0,1,2,3,4,5,6,7,8,9,10,11,12,13,14,15,16,17,18,19], "v": [19.05,19.05,17.6,16.3,14.9,14.0,13.8,14.1,14.4,14.2,14.5,14.3,14.6,14.4,14.2,14.5,14.3,14.6,14.4,14.3]},
      {"id": "r69", "m": "\"random fractional\"", "t": [0,1,2,3,4,5,6,7,8,9,10,11,12,13,14,15,16,17,18,19], "v": [19.05,19.05,17.5,16.2,14.8,13.9,13.7,13.8,14.0,14.3,14.1,14.4,14.2,14.5,14.3,14.1,14.4,14.2,14.5,14.3]},
      {"id": "r70", "m": "\"random fractional\"", "t": [0,1,2,3,4,5,6,7,8,9,10,11,12,13,14,15,16,17,18,19], "v": [19.05,19.05,17.3,15.9,14.4,13.5,13.2,13.3,13.5,13.7,13.5,13.8,13.6,13.4,13.7,13.5,13.8,13.6,13.5,13.7]},
      {"id": "r71", "m": "\"random fractional\"", "t": [0,1,2,3,4,5,6,7,8,9,10,11,12,13,14,15,16,17,18,19], "v": [19.05,19.05,17.2,15.8,14.3,13.4,13.1,13.2,13.4,13.6,13.4,13.3,13.5,13.7,13.5,13.4,13.6,13.4,13.3,13.5]},
      {"id": "r72", "m": "\"random fractional\"", "t": [0,1,2,3,4,5,6,7,8,9,10,11,12,13,14,15,16,17,18,19], "v": [19.05,19.05,17.7,16.5,15.1,14.4,14.3,14.7,15.1,15.4,15.7,15.9,15.7,15.5,15.7,15.9,15.7,15.5,15.7,15.9]},
      {"id": "r73", "m": "\"random fractional\"", "t": [0,1,2,3,4,5,6,7,8,9,10,11,12,13,14,15,16,17,18,19], "v": [19.05,19.05,17.8,16.6,15.2,14.5,14.6,15.0,15.5,15.8,16.0,15.8,16.0,16.2,16.0,15.8,16.0,15.9,16.1,15.9]},
      {"id": "r74", "m": "\"random fractional\"", "t": [0,1,2,3,4,5,6,7,8,9,10,11,12,13,14,15,16,17,18,19], "v": [19.05,19.05,17.5,16.1,14.7,13.8,13.5,13.7,14.1,14.4,14.7,14.9,15.1,14.9,15.2,15.0,14.8,15.0,15.2,15.0]},
      {"id": "r75", "m": "\"random fractional\"", "t": [0,1,2,3,4,5,6,7,8,9,10,11,12,13,14,15,16,17,18,19], "v": [19.05,19.05,17.4,16.0,14.6,13.7,13.5,13.6,13.8,14.1,14.4,14.6,14.4,14.7,14.9,14.7,15.0,14.8,14.6,14.8]},
      {"id": "r76", "m": "\"random fractional\"", "t": [0,1,2,3,4,5,6,7,8,9,10,11,12,13,14,15,16,17,18,19], "v": [19.05,19.05,17.3,15.9,14.4,13.5,13.3,13.5,13.8,14.1,13.9,13.7,13.9,14.2,14.0,13.8,14.0,14.2,14.0,13.8]},
      {"id": "r77", "m": "\"random fractional\"", "t": [0,1,2,3,4,5,6,7,8,9,10,11,12,13,14,15,16,17,18,19], "v": [19.05,19.05,17.6,16.3,14.9,14.1,13.9,14.0,13.8,14.0,14.2,14.4,14.6,14.4,14.2,14.4,14.6,14.8,14.6,14.4]},
      {"id": "r78", "m": "\"random fractional\"", "t": [0,1,2,3,4,5,6,7,8,9,10,11,12,13,14,15,16,17,18,19], "v": [19.05,19.05,17.7,16.4,15.0,14.2,14.0,14.3,14.6,14.9,15.1,14.9,14.7,14.9,15.1,15.3,15.1,14.9,15.1,15.3]},
      {"id": "r79", "m": "\"random fractional\"", "t": [0,1,2,3,4,5,6,7,8,9,10,11,12,13,14,15,16,17,18,19], "v": [19.05,19.05,17.5,16.2,14.7,13.8,13.6,13.8,14.0,13.8,13.6,13.8,14.0,13.8,14.0,14.2,14.0,13.8,13.9,14.1]},
      {"id": "r80", "m": "\"random fractional\"", "t": [0,1,2,3,4,5,6,7,8,9,10,11,12,13,14,15,16,17,18,19], "v": [19.05,19.05,17.4,16.0,14.5,13.6,13.3,13.3,13.5,13.3,13.5,13.7,13.5,13.3,13.4,13.6,13.4,13.2,13.4,13.3]},
      {"id": "r81", "m": "\"random fractional\"", "t": [0,1,2,3,4,5,6,7,8,9,10,11,12,13,14,15,16,17,18,19], "v": [19.05,19.05,17.3,15.9,14.4,13.5,13.2,13.1,13.0,13.2,13.0,13.1,13.3,13.1,13.3,13.2,13.0,13.2,13.0,13.1]},
      {"id": "r82", "m": "\"random fractional\"", "t": [0,1,2,3,4,5,6,7,8,9,10,11,12,13,14,15,16,17,18,19], "v": [19.05,19.05,17.8,16.5,15.1,14.3,14.2,14.5,14.8,15.1,14.9,15.2,15.4,15.2,15.0,15.2,15.4,15.6,15.4,15.2]},
      {"id": "r83", "m": "\"random fractional\"", "t": [0,1,2,3,4,5,6,7,8,9,10,11,12,13,14,15,16,17,18,19], "v": [19.05,19.05,17.6,16.2,14.8,13.9,13.7,13.9,14.2,14.5,14.8,14.6,14.4,14.6,14.4,14.6,14.8,14.6,14.8,15.0]},
      {"id": "r84", "m": "\"random fractional\"", "t": [0,1,2,3,4,5,6,7,8,9,10,11,12,13,14,15,16,17,18,19], "v": [19.05,19.05,17.5,16.1,14.6,13.7,13.5,13.7,13.9,14.2,14.0,14.2,14.0,14.3,14.5,14.3,14.1,14.3,14.1,14.2]},
      {"id": "r85", "m": "\"random fractional\"", "t": [0,1,2,3,4,5,6,7,8,9,10,11,12,13,14,15,16,17,18,19], "v": [19.05,19.05,17.4,16.1,14.6,13.7,13.4,13.5,13.7,13.9,14.1,13.9,14.1,13.9,13.7,13.9,14.1,13.9,14.1,13.9]},
      {"id": "r86", "m": "\"random fractional\"", "t": [0,1,2,3,4,5,6,7,8,9,10,11,12,13,14,15,16,17,18,19], "v": [19.05,19.05,17.7,16.4,15.0,14.2,14.1,14.4,14.6,14.4,14.6,14.8,14.6,14.8,14.6,14.4,14.6,14.8,14.6,14.9]},
      {"id": "r87", "m": "\"random fractional\"", "t": [0,1,2,3,4,5,6,7,8,9,10,11,12,13,14,15,16,17,18,19], "v": [19.05,19.05,17.6,16.3,14.9,14.0,13.8,14.0,14.3,14.5,14.3,14.5,14.7,14.5,14.3,14.5,14.3,14.5,14.7,14.5]},
      {"id": "r88", "m": "\"random fractional\"", "t": [0,1,2,3,4,5,6,7,8,9,10,11,12,13,14,15,16,17,18,19], "v": [19.05,19.05,17.5,16.2,14.8,13.9,13.6,13.7,13.9,14.1,14.3,14.1,13.9,14.1,14.3,14.1,14.3,14.1,13.9,14.2]},
      {"id": "r89", "m": "\"random fractional\"", "t": [0,1,2,3,4,5,6,7,8,9,10,11,12,13,14,15,16,17,18,19], "v": [19.05,19.05,17.9,16.8,15.4,14.8,14.9,15.3,15.7,16.0,15.8,15.6,15.8,15.6,15.8,15.6,15.4,15.6,15.8,15.6]},
      {"id": "r90", "m": "\"random fractional\"", "t": [0,1,2,3,4,5,6,7,8,9,10,11,12,13,14,15,16,17,18,19], "v": [19.05,19.05,17.6,16.3,14.9,14.1,13.9,14.2,14.5,14.7,14.5,14.3,14.5,14.7,14.5,14.7,14.9,14.7,14.5,14.7]}
    ],
    "dens": [
      {"m": "\"perfect copy\"", "p": "curve", "o": 1, "w": 11.0, "d": 0},
      {"m": "\"perfect copy\"", "p": "curve", "o": 2, "w": 11.86, "d": 0.005},
      {"m": "\"perfect copy\"", "p": "curve", "o": 3, "w": 12.29, "d": 0.02},
      {"m": "\"perfect copy\"", "p": "curve", "o": 4, "w": 12.64, "d": 0.045},
      {"m": "\"perfect copy\"", "p": "curve", "o": 5, "w": 13.0, "d": 0.08},
      {"m": "\"perfect copy\"", "p": "curve", "o": 6, "w": 13.28, "d": 0.13},
      {"m": "\"perfect copy\"", "p": "curve", "o": 7, "w": 13.5, "d": 0.2},
      {"m": "\"perfect copy\"", "p": "curve", "o": 8, "w": 13.67, "d": 0.29},
      {"m": "\"perfect copy\"", "p": "curve", "o": 9, "w": 13.92, "d": 0.42},
      {"m": "\"perfect copy\"", "p": "curve", "o": 10, "w": 14.2, "d": 0.48},
      {"m": "\"perfect copy\"", "p": "curve", "o": 11, "w": 14.49, "d": 0.43},
      {"m": "\"perfect copy\"", "p": "curve", "o": 12, "w": 14.7, "d": 0.33},
      {"m": "\"perfect copy\"", "p": "curve", "o": 13, "w": 14.9, "d": 0.23},
      {"m": "\"perfect copy\"", "p": "curve", "o": 14, "w": 15.05, "d": 0.19},
      {"m": "\"perfect copy\"", "p": "curve", "o": 15, "w": 15.2, "d": 0.165},
      {"m": "\"perfect copy\"", "p": "curve", "o": 16, "w": 15.55, "d": 0.14},
      {"m": "\"perfect copy\"", "p": "curve", "o": 17, "w": 16.12, "d": 0.127},
      {"m": "\"perfect copy\"", "p": "curve", "o": 18, "w": 16.65, "d": 0.117},
      {"m": "\"perfect copy\"", "p": "curve", "o": 19, "w": 17.12, "d": 0.085},
      {"m": "\"perfect copy\"", "p": "curve", "o": 20, "w": 17.76, "d": 0.05},
      {"m": "\"perfect copy\"", "p": "curve", "o": 21, "w": 18.3, "d": 0.025},
      {"m": "\"perfect copy\"", "p": "curve", "o": 22, "w": 18.7, "d": 0.01},
      {"m": "\"perfect copy\"", "p": "curve", "o": 23, "w": 19.03, "d": 0},
      {"m": "\"perfect copy\"", "p": "base", "o": 1, "w": 11.0, "d": 0},
      {"m": "\"perfect copy\"", "p": "base", "o": 2, "w": 19.03, "d": 0},
      {"m": "\"random fractional\"", "p": "curve", "o": 1, "w": 11.0, "d": 0},
      {"m": "\"random fractional\"", "p": "curve", "o": 2, "w": 11.86, "d": 0.002},
      {"m": "\"random fractional\"", "p": "curve", "o": 3, "w": 12.22, "d": 0.01},
      {"m": "\"random fractional\"", "p": "curve", "o": 4, "w": 12.64, "d": 0.033},
      {"m": "\"random fractional\"", "p": "curve", "o": 5, "w": 13.0, "d": 0.073},
      {"m": "\"random fractional\"", "p": "curve", "o": 6, "w": 13.25, "d": 0.133},
      {"m": "\"random fractional\"", "p": "curve", "o": 7, "w": 13.42, "d": 0.2},
      {"m": "\"random fractional\"", "p": "curve", "o": 8, "w": 13.57, "d": 0.3},
      {"m": "\"random fractional\"", "p": "curve", "o": 9, "w": 13.78, "d": 0.45},
      {"m": "\"random fractional\"", "p": "curve", "o": 10, "w": 14.13, "d": 0.505},
      {"m": "\"random fractional\"", "p": "curve", "o": 11, "w": 14.49, "d": 0.43},
      {"m": "\"random fractional\"", "p": "curve", "o": 12, "w": 14.77, "d": 0.365},
      {"m": "\"random fractional\"", "p": "curve", "o": 13, "w": 14.99, "d": 0.373},
      {"m": "\"random fractional\"", "p": "curve", "o": 14, "w": 15.2, "d": 0.367},
      {"m": "\"random fractional\"", "p": "curve", "o": 15, "w": 15.48, "d": 0.3},
      {"m": "\"random fractional\"", "p": "curve", "o": 16, "w": 15.77, "d": 0.2},
      {"m": "\"random fractional\"", "p": "curve", "o": 17, "w": 16.09, "d": 0.117},
      {"m": "\"random fractional\"", "p": "curve", "o": 18, "w": 16.34, "d": 0.05},
      {"m": "\"random fractional\"", "p": "curve", "o": 19, "w": 16.69, "d": 0.005},
      {"m": "\"random fractional\"", "p": "curve", "o": 20, "w": 17.2, "d": 0},
      {"m": "\"random fractional\"", "p": "base", "o": 1, "w": 11.0, "d": 0},
      {"m": "\"random fractional\"", "p": "base", "o": 2, "w": 19.03, "d": 0}
    ]
  },
  "spacing": 38,
  "resolve": {"scale": {"color": "independent"}, "legend": {"color": "independent"}},
  "hconcat": [
    {
      "title": {"text": "(a) Performance coloured by variation method", "orient": "bottom", "anchor": "middle", "font": "DejaVu Serif", "fontSize": 21.5, "offset": 29},
      "resolve": {"scale": {"color": "independent"}, "legend": {"color": "independent"}},
      "vconcat": [
        {
          "title": {"text": "Average performance sorted by variation method", "anchor": "middle", "frame": "group", "offset": 7},
          "width": 561,
          "height": 525,
          "data": {"name": "runs"},
          "transform": [{"flatten": ["t", "v"]}],
          "mark": {"type": "line", "strokeWidth": 1.7},
          "encoding": {
            "x": {"field": "t", "type": "quantitative", "scale": {"domain": [-0.95, 19.95], "nice": false, "zero": false}, "axis": {"values": [0, 5, 10, 15], "title": "year"}},
            "y": {"field": "v", "type": "quantitative", "scale": {"domain": [10.93, 19.42], "nice": false, "zero": false}, "axis": {"values": [11, 13, 15, 17, 19], "title": "water quantity per person"}},
            "color": {"field": "m", "type": "nominal", "scale": {"domain": ["\"perfect copy\"", "\"random fractional\""], "range": ["#F8766D", "#00BFC4"]}, "legend": {"title": "variation_method", "symbolType": "stroke", "symbolSize": 361, "symbolStrokeWidth": 1.6, "rowPadding": 9, "offset": 20}},
            "detail": {"field": "id", "type": "nominal"}
          }
        }
      ]
    },
    {
      "title": {"text": "(b) Density of runs after 20 years", "orient": "bottom", "anchor": "middle", "font": "DejaVu Serif", "fontSize": 20.5, "offset": 33},
      "resolve": {"scale": {"color": "independent"}, "legend": {"color": "independent"}},
      "vconcat": [
        {
          "title": {"text": "Density of variation methods", "anchor": "start", "frame": "bounds", "offset": 6},
          "width": 144,
          "height": 521,
          "data": {"name": "dens"},
          "mark": {"type": "line", "strokeWidth": 1.5, "interpolate": "catmull-rom"},
          "encoding": {
            "x": {"field": "d", "type": "quantitative", "scale": {"domain": [-0.067, 1.373], "nice": false, "zero": false}, "axis": {"values": [0, 0.5, 1], "format": ".1f", "title": "water quantity per person"}},
            "y": {"field": "w", "type": "quantitative", "scale": {"domain": [10.62, 19.454], "nice": false, "zero": false}, "axis": {"values": [12.5, 15, 17.5], "format": ".1f", "title": "density"}},
            "color": {"field": "m", "type": "nominal", "scale": {"domain": ["\"perfect copy\"", "\"random fractional\""], "range": ["#F8766D", "#00BFC4"]}, "legend": {"title": "variation_method", "symbolType": "square", "symbolSize": 400, "symbolStrokeWidth": 2, "symbolFillColor": "white", "rowPadding": 0, "offset": 18}},
            "detail": {"field": "p", "type": "nominal"},
            "order": {"field": "o", "type": "quantitative"}
          }
        }
      ]
    }
  ]
}
